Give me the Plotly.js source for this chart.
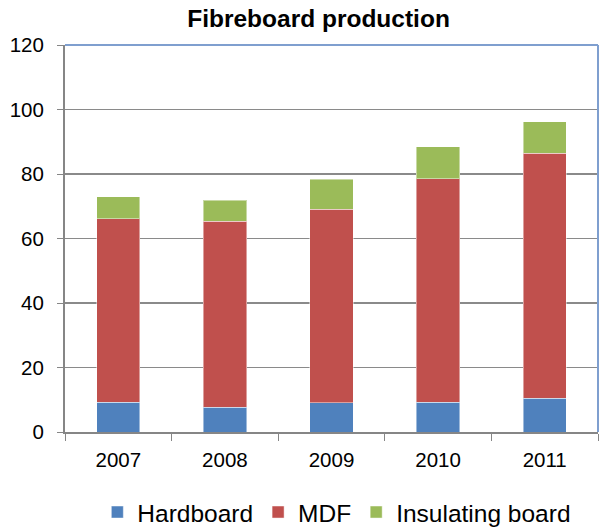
<!DOCTYPE html>
<html>
<head>
<meta charset="utf-8">
<script src="https://cdn.plot.ly/plotly-3.0.1.min.js"></script>
<style>html,body{margin:0;padding:0;background:#fff}#chart{width:601px;height:528px}</style>
</head>
<body>
<div id="chart"></div>
<script>
var years = ['2007', '2008', '2009', '2010', '2011'];
var hardboard = [9.3, 7.7, 9.0, 9.3, 10.5];
var mdf = [56.8, 57.6, 60.0, 69.3, 76.0];
var insulating = [6.9, 6.6, 9.3, 9.8, 9.7];
var yTicks = [0, 20, 40, 60, 80, 100, 120];

var outline = {color: 'rgba(255,255,255,0.45)', width: 1};
var traces = [
  {type: 'bar', name: 'Hardboard', x: years, y: hardboard, marker: {color: '#4F81BD', line: outline}},
  {type: 'bar', name: 'MDF', x: years, y: mdf, marker: {color: '#C0504D', line: outline}},
  {type: 'bar', name: 'Insulating board', x: years, y: insulating, marker: {color: '#9BBB59', line: outline}}
];

var layout = {
  width: 601, height: 528,
  margin: {l: 65, r: 3, t: 45, b: 96, autoexpand: false},
  paper_bgcolor: '#fff', plot_bgcolor: '#fff',
  barmode: 'stack',
  bargap: 0.594,
  font: {family: "'Liberation Sans', Arial, sans-serif", color: '#000'},
  title: {text: '<b>Fibreboard production</b>', font: {size: 24.5, color: '#000'}, x: 0.53, xanchor: 'center', y: 0.965, yanchor: 'middle'},
  xaxis: {
    type: 'category', tickson: 'boundaries', ticks: 'outside', ticklen: 7, tickcolor: '#868686',
    showline: true, linecolor: '#868686', linewidth: 2, showgrid: false,
    tickfont: {size: 20.5}, ticklabelstandoff: 8, fixedrange: true
  },
  yaxis: {
    range: [0, 120], tickvals: yTicks, ticks: 'outside', ticklen: 6, tickcolor: '#868686',
    showline: true, linecolor: '#868686', linewidth: 2, gridcolor: '#8a8a8a', gridwidth: 1.6,
    zeroline: false, tickfont: {size: 20.5}, ticklabelstandoff: 9, fixedrange: true
  },
  legend: {
    orientation: 'h', x: 0.51, xanchor: 'center', y: -0.207, yanchor: 'middle',
    font: {size: 24.5}, traceorder: 'normal', itemwidth: 30
  },
  shapes: [
    {type: 'line', xref: 'paper', yref: 'paper', x0: 0, x1: 1, y0: 1, y1: 1, line: {color: '#7F9FCF', width: 2}},
    {type: 'line', xref: 'paper', yref: 'paper', x0: 1, x1: 1, y0: 0, y1: 1, line: {color: '#7F9FCF', width: 2}}
  ],
  showlegend: true
};

Plotly.newPlot('chart', traces, layout, {displayModeBar: false, staticPlot: true});
</script>
</body>
</html>
